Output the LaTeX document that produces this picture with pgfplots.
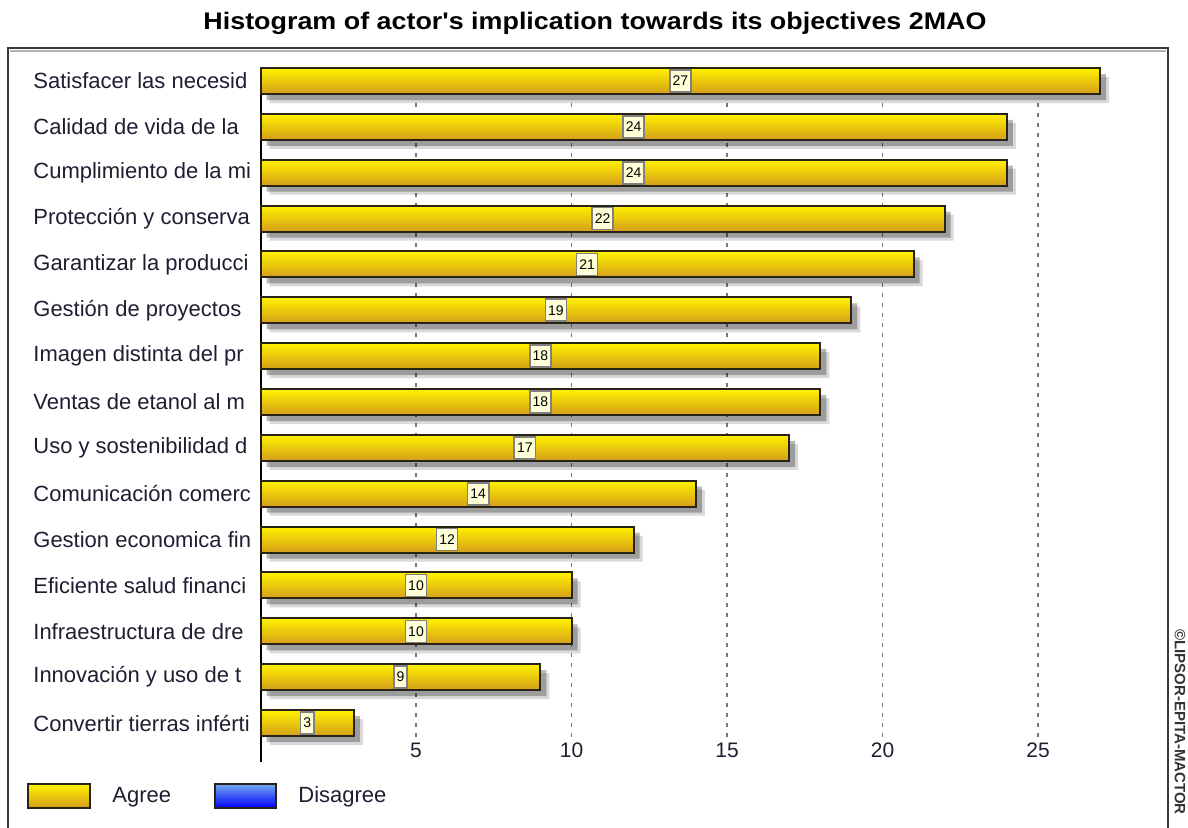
\documentclass[border=0pt]{standalone}
\usepackage{pgfplots}
\pgfplotsset{compat=1.18}
\usepackage{pgfplotstable}
\usepackage{fontspec}
\setmainfont{Liberation Sans}

\definecolor{barTop}{RGB}{255,242,0}
\definecolor{barBot}{RGB}{212,158,26}
\definecolor{barEdge}{RGB}{40,35,20}
\definecolor{blueTop}{RGB}{115,170,240}
\definecolor{blueBot}{RGB}{0,0,250}
\definecolor{lblFill}{RGB}{255,255,215}
\definecolor{lblEdge}{RGB}{128,128,128}
\definecolor{gridcol}{RGB}{120,120,120}
\definecolor{framecol}{RGB}{55,55,55}
\definecolor{txtcol}{RGB}{30,30,50}

\pgfplotstableread{
y v label
1 27 {Satisfacer las necesid}
2 24 {Calidad de vida de la}
3 24 {Cumplimiento de la mi}
4 22 {Protección y conserva}
5 21 {Garantizar la producci}
6 19 {Gestión de proyectos}
7 18 {Imagen distinta del pr}
8 18 {Ventas de etanol al m}
9 17 {Uso y sostenibilidad d}
10 14 {Comunicación comerc}
11 12 {Gestion economica fin}
12 10 {Eficiente salud financi}
13 10 {Infraestructura de dre}
14 9 {Innovación y uso de t}
15 3 {Convertir tierras inférti}
}\data

\pgfplotsset{
  mybar/.style={xbar, bar width=13pt, draw=barEdge, line width=1pt,
    top color=barTop, bottom color=barBot, forget plot},
  gridln/.style={gridcol, dash pattern=on 2pt off 3pt, line width=0.6pt, forget plot},
}

\begin{document}
\begin{tikzpicture}
\path[use as bounding box] (0,0) rectangle (594pt,-413.5pt);
\begin{axis}[
  at={(130.25pt,-370pt)}, anchor=south west,
  scale only axis, width=449.4pt, height=340.97pt,
  xmin=0, xmax=28.9, ymin=0.5, ymax=15.371, y dir=reverse,
  clip=false,
  axis line style={draw=none},
  major tick length=0pt,
  /pgf/number format/assume math mode=true,
  xtick={5,10,15,20,25},
  ytick={1,...,15},
  yticklabels from table={\data}{label},
  xticklabel style={anchor=center, yshift=-5pt, inner sep=0pt, font=\fontsize{10.5}{12}\selectfont, text=txtcol},
  yticklabel style={anchor=west, xshift=-113.75pt, inner sep=0pt, font=\fontsize{11}{13}\selectfont, text=txtcol},
]
% grid lines and y axis line (drawn first, so below the bars)
\addplot[gridln] coordinates {(5,1.48) (5,15.371)};
\addplot[gridln] coordinates {(10,1.48) (10,15.371)};
\addplot[gridln] coordinates {(15,1.48) (15,15.371)};
\addplot[gridln] coordinates {(20,1.48) (20,15.371)};
\addplot[gridln] coordinates {(25,1.48) (25,15.371)};
\addplot[black, line width=1pt, forget plot] coordinates {(0,0.695) (0,15.85)};
% shadows of bars
\addplot[xbar, bar width=13pt, draw=none, fill=black, fill opacity=0.28, xshift=3pt, yshift=-3pt, forget plot]
  table[x=v, y=y] {\data};
\addplot[xbar, bar width=13pt, draw=none, fill=black, fill opacity=0.15, xshift=4.5pt, yshift=-4.5pt, forget plot]
  table[x=v, y=y] {\data};
% bars (one plot per bar so that each bar gets its own gradient)
\addplot[mybar] coordinates {(27,1)};
\addplot[mybar] coordinates {(24,2)};
\addplot[mybar] coordinates {(24,3)};
\addplot[mybar] coordinates {(22,4)};
\addplot[mybar] coordinates {(21,5)};
\addplot[mybar] coordinates {(19,6)};
\addplot[mybar] coordinates {(18,7)};
\addplot[mybar] coordinates {(18,8)};
\addplot[mybar] coordinates {(17,9)};
\addplot[mybar] coordinates {(14,10)};
\addplot[mybar] coordinates {(12,11)};
\addplot[mybar] coordinates {(10,12)};
\addplot[mybar] coordinates {(10,13)};
\addplot[mybar] coordinates {(9,14)};
\addplot[mybar] coordinates {(3,15)};
% value labels at the middle of each bar
\addplot[only marks, mark=none, nodes near coords, point meta=explicit,
  nodes near coords align={center},
  every node near coord/.append style={anchor=center, fill=lblFill, draw=lblEdge, line width=0.8pt,
    inner xsep=1.4pt, inner ysep=0pt, minimum height=11pt, text=black,
    font=\fontsize{7}{8}\selectfont}]
  table[x expr=\thisrow{v}/2, y=y, meta=v] {\data};
\end{axis}
\begin{scope}[x=0.5pt, y=-0.5pt]
\node[text=black, inner sep=0pt] at (595,23) {\scalebox{1.12}[1]{\fontsize{12}{14}\selectfont\bfseries Histogram of actor\textquotesingle s implication towards its objectives 2MAO}};
\draw[black!30, line width=1pt] (10,51) -- (1166,51);
\draw[framecol, line width=1pt] (8,830) -- (8,48) -- (1168,48) -- (1168,830);
\draw[barEdge, line width=1pt, top color=barTop, bottom color=barBot] (28,784) rectangle (90,808);
\node[anchor=west, inner sep=0pt, text=txtcol, font=\fontsize{11}{13}\selectfont] at (112,797) {Agree};
\draw[barEdge, line width=1pt, top color=blueTop, bottom color=blueBot] (215,784) rectangle (276,808);
\node[anchor=west, inner sep=0pt, text=txtcol, font=\fontsize{11}{13}\selectfont] at (298,797) {Disagree};
\node[rotate=-90, inner sep=0pt, text=black!80, font=\fontsize{7.5}{9}\selectfont\bfseries] at (1180,722) {©LIPSOR-EPITA-MACTOR};
\end{scope}
\end{tikzpicture}
\end{document}
